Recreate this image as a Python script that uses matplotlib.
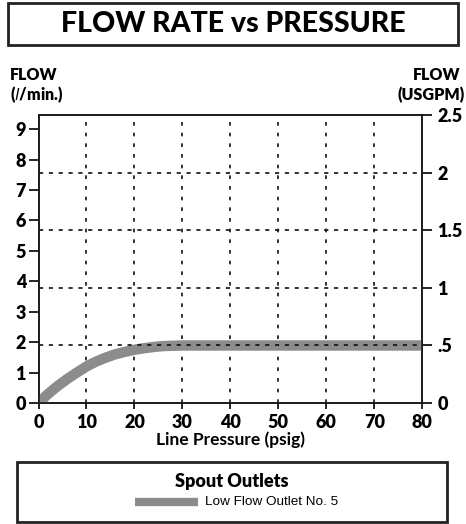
import matplotlib
matplotlib.use("Agg")
import matplotlib.pyplot as plt
from matplotlib.patches import Rectangle
from matplotlib.lines import Line2D

# Data
pressure = [0, 2, 4, 6, 8, 10, 12, 14, 16, 18, 20, 22, 24, 26, 28, 30, 40, 50, 60, 70, 80]
flow_lpm = [0, 0.30, 0.56, 0.79, 1.0, 1.2, 1.36, 1.49, 1.6, 1.68, 1.75, 1.8, 1.84, 1.87, 1.88, 1.89, 1.89, 1.89, 1.89, 1.89, 1.89]
x_ticks = [0, 10, 20, 30, 40, 50, 60, 70, 80]
x_labels = ["0", "10", "20", "30", "40", "50", "60", "70", "80"]
left_ticks = [0, 1, 2, 3, 4, 5, 6, 7, 8, 9]
right_ticks = [0, 0.5, 1, 1.5, 2, 2.5]
right_labels = ["0", ".5", "1", "1.5", "2", "2.5"]
series_name = "Low Flow Outlet No. 5"
legend_title = "Spout Outlets"
title = "FLOW RATE vs PRESSURE"
LPM_PER_GPM = 3.785

plt.rcParams['font.family'] = ['Lato', 'DejaVu Sans']
fig = plt.figure(figsize=(4.66, 5.24), dpi=100)

ax = fig.add_axes([38.5/466, 121/524, (422.3-38.5)/466, (403-115)/524])
ax2 = ax.twinx()
ymax_gpm = 2.5
ax.set_xlim(0, 80)
ax.set_ylim(0, ymax_gpm * LPM_PER_GPM)
ax2.set_ylim(0, ymax_gpm)

# grid
for xv in x_ticks[1:-1]:
    ax.axvline(xv, color='#111111', lw=1.2, ls=(0, (2.2, 4.2)), zorder=1)
for yv in right_ticks[1:-1]:
    ax2.axhline(yv, color='#111111', lw=1.2, ls=(0, (2.5, 3.4)), zorder=1)

ax.plot(pressure, flow_lpm, color='#8c8c8e', lw=7.5, solid_capstyle='butt', zorder=3)

ax.set_xticks(x_ticks)
ax.set_xticklabels(x_labels)
ax.set_yticks(left_ticks)
ax2.set_yticks(right_ticks)
ax2.set_yticklabels(right_labels)

for a in (ax, ax2):
    for s in a.spines.values():
        s.set_linewidth(1.2)
        s.set_color('#1a1a1a')
ax.tick_params(axis='y', direction='out', length=7, width=1.2, labelsize=13, pad=2)
ax.tick_params(axis='x', direction='out', length=4, width=1.2, labelsize=13, pad=4)
ax2.tick_params(axis='y', direction='out', length=7, width=1.2, labelsize=13, pad=4)
for lab in ax.get_xticklabels() + ax.get_yticklabels() + ax2.get_yticklabels():
    lab.set_fontweight('heavy')
ax.set_xlabel("Line Pressure (psig)", fontsize=12.5, fontweight='bold', labelpad=0)

# axis titles
fig.text(10/466, 1 - 75/524, "FLOW", fontsize=11.5, fontweight='heavy', va='center', ha='left')
fig.text(10/466, 1 - 95/524, "($\\mathit{l}$/min.)", fontsize=11.5, fontweight='heavy', va='center', ha='left')
fig.text(460/466, 1 - 75/524, "FLOW", fontsize=11.5, fontweight='heavy', va='center', ha='right')
fig.text(465/466, 1 - 95/524, "(USGPM)", fontsize=11.5, fontweight='heavy', va='center', ha='right')

# title box
fig.patches.append(Rectangle((8/466, 1 - 45/524), 450/466, 42/524, transform=fig.transFigure,
                             fill=False, edgecolor='#222222', lw=2))
fig.text(0.5, 1 - 24/524, title, fontsize=20.5, fontweight='black', ha='center', va='center')

# legend box
fig.patches.append(Rectangle((17/466, 2/524), 430/466, 60/524, transform=fig.transFigure,
                             fill=False, edgecolor='#222222', lw=2))
fig.text(232/466, 1 - 481/524, legend_title, fontsize=13, fontweight='heavy', ha='center', va='center')
fig.lines.append(Line2D([135/466, 198/466], [1 - 502/524, 1 - 502/524], transform=fig.transFigure,
                        color='#8c8c8e', lw=6, solid_capstyle='butt'))
fig.text(205/466, 1 - 502/524, series_name, fontsize=9.7, family='Liberation Sans', ha='left', va='center')

fig.savefig("out.png", dpi=100)
